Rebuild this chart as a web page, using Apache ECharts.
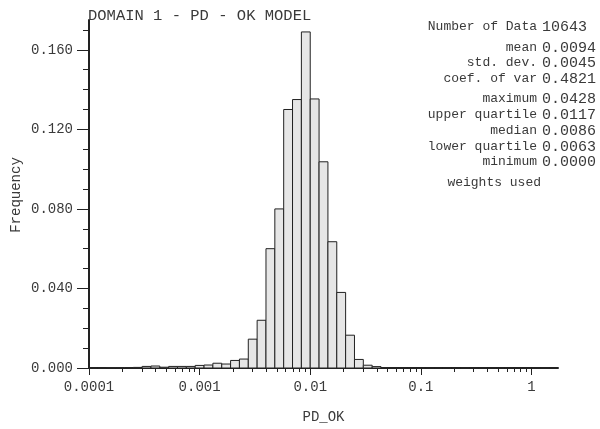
<!DOCTYPE html>
<html>
<head>
<meta charset="utf-8">
<script src="https://cdn.jsdelivr.net/npm/echarts@6/dist/echarts.min.js"></script>
<style>
html, body { margin: 0; background: #fff; }
#container { width: 600px; height: 429px; }
</style>
</head>
<body>
<div id="container"></div>
<script>
// histogram bins: log spaced, 12.5 bins per decade starting at 0.0001
var binStart = 0.0001;
var binsPerDecade = 12.5;
var freq = [0, 0, 0.0001, 0.0001, 0.0002, 0.0003, 0.0008, 0.001, 0.0004, 0.0008,
            0.0008, 0.0008, 0.0013, 0.0015, 0.0024, 0.002, 0.0038, 0.0045, 0.0145, 0.024,
            0.060, 0.080, 0.130, 0.135, 0.169, 0.1353, 0.1037, 0.0635, 0.038, 0.0165,
            0.0043, 0.0014, 0.0007, 0.0002, 0, 0, 0, 0, 0, 0,
            0, 0, 0, 0, 0, 0, 0, 0, 0, 0,
            0, 0, 0];
var xTicks = [0.0001, 0.001, 0.01, 0.1, 1];
var xMinorTicks = [0.0002, 0.0003, 0.0004, 0.0005, 0.0006, 0.0007, 0.0008, 0.0009,
                   0.002, 0.003, 0.004, 0.005, 0.006, 0.007, 0.008, 0.009,
                   0.02, 0.03, 0.04, 0.05, 0.06, 0.07, 0.08, 0.09,
                   0.2, 0.3, 0.4, 0.5, 0.6, 0.7, 0.8, 0.9];
var yTicks = [0, 0.04, 0.08, 0.12, 0.16];
var yMinorTicks = [0.01, 0.02, 0.03, 0.05, 0.06, 0.07, 0.09, 0.10, 0.11, 0.13, 0.14, 0.15, 0.17];
var statNames = ['Number of Data', 'mean', 'std. dev.', 'coef. of var', 'maximum',
                 'upper quartile', 'median', 'lower quartile', 'minimum'];
var statValues = ['10643', '0.0094', '0.0045', '0.4821', '0.0428', '0.0117', '0.0086', '0.0063', '0.0000'];

var FONT = 'Liberation Mono';
var TXT = '#3a3a3a';

var bars = freq.map(function (f, i) {
    var lo = binStart * Math.pow(10, i / binsPerDecade);
    var hi = binStart * Math.pow(10, (i + 1) / binsPerDecade);
    return [lo, hi, f];
});
var xMax = binStart * Math.pow(10, freq.length / binsPerDecade);

var dom = document.getElementById('container');
var myChart = echarts.init(dom, null, { renderer: 'canvas' });

var statY = [27, 48, 63, 79, 99, 115, 131, 147, 162];
var graphics = [];
statNames.forEach(function (n, i) {
    graphics.push({ type: 'text', x: 537, y: statY[i], style: { text: n, font: '13px ' + FONT, fill: TXT, textAlign: 'right', textVerticalAlign: 'middle' } });
    graphics.push({ type: 'text', x: 542, y: statY[i], style: { text: statValues[i], font: '15px ' + FONT, fill: TXT, textAlign: 'left', textVerticalAlign: 'middle' } });
});
graphics.push({ type: 'text', x: 541, y: 183, style: { text: 'weights used', font: '13px ' + FONT, fill: TXT, textAlign: 'right', textVerticalAlign: 'middle' } });
graphics.push({ type: 'text', x: 16, y: 195, rotation: Math.PI / 2, style: { text: 'Frequency', font: '14px ' + FONT, fill: TXT, textAlign: 'center', textVerticalAlign: 'middle' } });

var axisLine = { show: true, lineStyle: { color: '#222', width: 2 } };

var option = {
    animation: false,
    title: {
        text: 'DOMAIN 1 - PD - OK MODEL',
        left: 83, top: 3,
        textStyle: { fontFamily: FONT, fontSize: 15.5, fontWeight: 'normal', color: TXT }
    },
    grid: { left: 89, right: 42, top: 20, bottom: 60 },
    xAxis: [{
        type: 'log', logBase: 10, min: binStart, max: xMax,
        position: 'bottom',
        axisLine: axisLine,
        axisTick: { customValues: xTicks, length: 7, lineStyle: { color: '#222' } },
        axisLabel: { customValues: xTicks, margin: 12, fontFamily: FONT, fontSize: 14, color: TXT,
                     formatter: function (v) { return String(v); } },
        splitLine: { show: false },
        name: 'PD_OK', nameLocation: 'middle', nameGap: 42,
        nameTextStyle: { fontFamily: FONT, fontSize: 14, color: TXT }
    }, {
        type: 'log', logBase: 10, min: binStart, max: xMax,
        position: 'bottom',
        axisLine: { show: false },
        axisTick: { customValues: xMinorTicks, length: 4, lineStyle: { color: '#222' } },
        axisLabel: { show: false },
        splitLine: { show: false }
    }],
    yAxis: [{
        type: 'value', min: 0, max: 0.175,
        position: 'left',
        axisLine: axisLine,
        axisTick: { show: true, customValues: yTicks, length: 12, lineStyle: { color: '#222' } },
        axisLabel: { customValues: yTicks, margin: 16, fontFamily: FONT, fontSize: 14, color: TXT,
                     formatter: function (v) { return v.toFixed(3); } },
        splitLine: { show: false }
    }, {
        type: 'value', min: 0, max: 0.175,
        position: 'left',
        axisLine: { show: false },
        axisTick: { show: true, customValues: yMinorTicks, length: 6, lineStyle: { color: '#222' } },
        axisLabel: { show: false },
        splitLine: { show: false }
    }],
    graphic: graphics,
    series: [{
        type: 'custom',
        xAxisIndex: 0, yAxisIndex: 0,
        data: bars,
        encode: { x: [0, 1], y: 2 },
        renderItem: function (params, api) {
            var p0 = api.coord([api.value(0), api.value(2)]);
            var p1 = api.coord([api.value(1), 0]);
            return {
                type: 'rect',
                shape: { x: p0[0], y: p0[1], width: p1[0] - p0[0], height: p1[1] - p0[1] },
                style: { fill: '#e6e6e6', stroke: '#222', lineWidth: 1 }
            };
        }
    }]
};
myChart.setOption(option);
window.addEventListener('resize', function () { myChart.resize(); });
</script>
</body>
</html>
